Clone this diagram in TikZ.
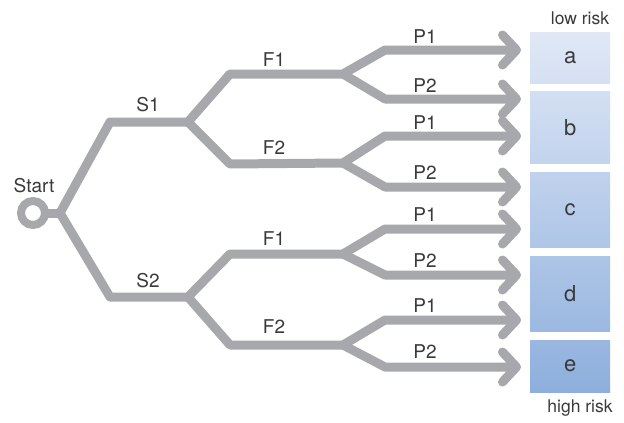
\documentclass[tikz,border=0pt]{standalone}
\usepackage{fontspec}
\setmainfont{TeX Gyre Heros}
\usetikzlibrary{arrows.meta}
\definecolor{brc}{HTML}{A7A8AB}
\definecolor{txt}{HTML}{3A3A3A}
\definecolor{lowc}{HTML}{E0E8F6}
\definecolor{highc}{HTML}{8EAFDD}
\begin{document}
\begin{tikzpicture}[x=1pt,y=-1pt,
  branch/.style={draw=brc, line width=9pt, line join=round, line cap=butt},
  arrowed/.style={branch, -{Straight Barb[length=14pt, width=30pt, round]}},
  lbl/.style={text=txt, font=\fontsize{19}{21}\selectfont, inner sep=0pt},
  riskbox/.style={minimum width=80pt, inner sep=0pt, anchor=north west, text=txt, font=\fontsize{22}{24}\selectfont},
]
\useasboundingbox[fill=white] (0,0) rectangle (624,423);

% boxes
\node[riskbox, minimum height=51pt, top color=lowc, bottom color=lowc!86!highc] (a) at (530,32) {a};
\node[riskbox, minimum height=72pt, top color=lowc!84!highc, bottom color=lowc!64!highc] (b) at (530,91) {b};
\node[riskbox, minimum height=75pt, top color=lowc!61!highc, bottom color=lowc!40!highc] (c) at (530,172) {c};
\node[riskbox, minimum height=75pt, top color=lowc!38!highc, bottom color=lowc!17!highc] (d) at (530,256) {d};
\node[riskbox, minimum height=52pt, top color=lowc!14!highc, bottom color=highc] (e) at (530,340) {e};
\node[lbl, font=\fontsize{17.5}{19}\selectfont] (low) at (580,18) {low risk};
\node[lbl, font=\fontsize{17.5}{19}\selectfont] (high) at (580,408) {high risk};

% start
\node[circle, draw=brc, line width=8pt, minimum size=24pt, inner sep=0pt, outer sep=0pt] (start) at (33,213) {};
\node[lbl] (lstart) at (34,186) {Start};

% junctions and bends
\coordinate (j0) at (60,213);
\coordinate (s1b) at (110,122); \coordinate (s1j) at (188,122);
\coordinate (s2b) at (110,297); \coordinate (s2j) at (188,297);
\coordinate (f1ub) at (230,74);  \coordinate (f1uj) at (343,74);
\coordinate (f2ub) at (230,164); \coordinate (f2uj) at (343,163);
\coordinate (f1lb) at (230,254); \coordinate (f1lj) at (343,254);
\coordinate (f2lb) at (230,345); \coordinate (f2lj) at (343,345);
% arrow bends and ends
\foreach \n/\y in {1/50, 2/99, 3/136, 4/187, 5/229, 6/275, 7/320, 8/367} {
  \coordinate (pb\n) at (385,\y);
  \coordinate (pe\n) at (521,\y);
}

% tree
\draw[branch] (start) -- (j0);
\draw[branch] (j0) -- (s1b) -- (s1j);
\draw[branch] (j0) -- (s2b) -- (s2j);
\draw[branch] (s1j) -- (f1ub) -- (f1uj);
\draw[branch] (s1j) -- (f2ub) -- (f2uj);
\draw[branch] (s2j) -- (f1lb) -- (f1lj);
\draw[branch] (s2j) -- (f2lb) -- (f2lj);
\draw[arrowed] (f1uj) -- (pb1) -- (pe1);
\draw[arrowed] (f1uj) -- (pb2) -- (pe2);
\draw[arrowed] (f2uj) -- (pb3) -- (pe3);
\draw[arrowed] (f2uj) -- (pb4) -- (pe4);
\draw[arrowed] (f1lj) -- (pb5) -- (pe5);
\draw[arrowed] (f1lj) -- (pb6) -- (pe6);
\draw[arrowed] (f2lj) -- (pb7) -- (pe7);
\draw[arrowed] (f2lj) -- (pb8) -- (pe8);

% labels
\node[lbl] (ls1) at (148,105) {S1};
\node[lbl] (ls2) at (148,281) {S2};
\node[lbl] (lf1u) at (274,60) {F1};
\node[lbl] (lf2u) at (274,148) {F2};
\node[lbl] (lf1l) at (274,239) {F1};
\node[lbl] (lf2l) at (274,327) {F2};
\node[lbl] (lp1) at (425,37) {P1};
\node[lbl] (lp2) at (425,86) {P2};
\node[lbl] (lp3) at (425,123) {P1};
\node[lbl] (lp4) at (425,173) {P2};
\node[lbl] (lp5) at (425,215) {P1};
\node[lbl] (lp6) at (425,261) {P2};
\node[lbl] (lp7) at (425,306) {P1};
\node[lbl] (lp8) at (425,352) {P2};
\end{tikzpicture}
\end{document}
